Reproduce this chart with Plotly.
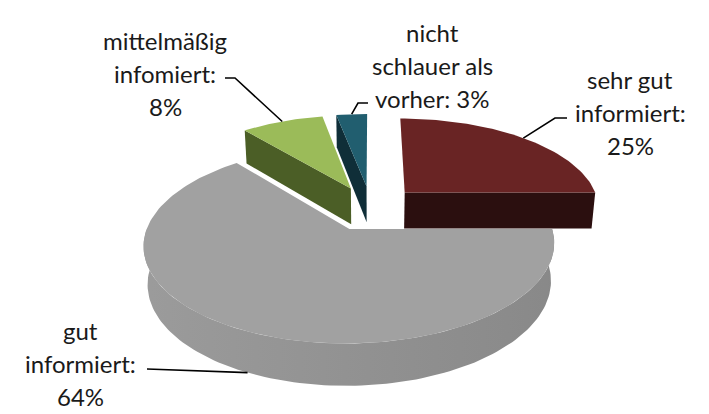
import numpy as np
import plotly.graph_objects as go

# ---------------- data ----------------
categories = ["sehr gut informiert", "gut informiert", "mittelmäßig infomiert", "nicht schlauer als vorher"]
values = [25, 64, 8, 3]
label_templates = [
    "sehr gut<br>informiert:<br>{}%",
    "gut<br>informiert:<br>{}%",
    "mittelmäßig<br>infomiert:<br>{}%",
    "nicht<br>schlauer als<br>vorher: {}%",
]

# ---------------- style ----------------
top_colors = ["#692424", "#a1a1a1", "#9bbb59", "#215e6f"]
side_colors = ["#2b0f0f", "#929292", "#4b5e26", "#0f2e38"]
W, Hpx = 709, 414
# projection (3-D perspective) settings
F, D, PHI = 1135.0, 5.8, np.radians(27.3)
EXPLODE, THICK = 0.25, 0.215
OX, OY = 371.0, 208.0
# label placement (pixel positions of text centers / leader elbows)
label_pos = [(630, 79), (80, 330), (165, 40), (432, 32)]
line_step = 33
leader_start = [[(567, 118), (555, 118)], [(147, 369)], [(225, 78), (235, 78)], [(368, 103), (358, 103)]]
FONT = "Lato"


def proj(X, Y, Z):
    X = np.asarray(X, float); Y = np.asarray(Y, float); Z = np.asarray(Z, float) + 0 * X
    w = D - (Y * np.cos(PHI) + Z * np.sin(PHI))
    sx = F * X / w
    sy = F * (-Y * np.sin(PHI) + Z * np.cos(PHI)) / w
    return OX + sx, OY - sy


def shade(hex_color, f):
    h = hex_color.lstrip("#")
    r, g, b = (int(h[i:i + 2], 16) for i in (0, 2, 4))
    c = [max(0, min(255, int(round(v * f)))) for v in (r, g, b)]
    return "rgb({},{},{})".format(*c)


fig = go.Figure()


def poly(xs, ys, color, gradient=None):
    xs = list(xs) + [xs[0]]
    ys = list(ys) + [ys[0]]
    kw = {}
    if gradient is not None:
        kw["fillgradient"] = dict(type="horizontal", colorscale=gradient)
    fig.add_trace(go.Scatter(x=xs, y=ys, mode="lines", fill="toself", fillcolor=color,
                             line=dict(color=color, width=0), hoverinfo="skip", showlegend=False, **kw))


total = float(sum(values))
cum = np.concatenate([[0], np.cumsum(values)]) / total * 2 * np.pi
slices = []
for i, v in enumerate(values):
    t1, t2 = cum[i], cum[i + 1]
    m = 0.5 * (t1 + t2)
    ex, ey = EXPLODE * np.sin(m), -EXPLODE * np.cos(m)
    slices.append(dict(i=i, t1=t1, t2=t2, m=m, ex=ex, ey=ey))

# draw back slices first
order = sorted(slices, key=lambda s: s["ey"])
for s in order:
    i, t1, t2, ex, ey = s["i"], s["t1"], s["t2"], s["ex"], s["ey"]
    # radial faces
    for t, vis in ((t1, -np.sin(t1)), (t2, np.sin(t2))):
        if vis > 1e-6:
            Xs = [ex, ex + np.sin(t), ex + np.sin(t), ex]
            Ys = [ey, ey - np.cos(t), ey - np.cos(t), ey]
            Zs = [0, 0, -THICK, -THICK]
            px, py = proj(Xs, Ys, Zs)
            poly(px, py, side_colors[i])
    # outer curved wall (front part only), one polygon with a horizontal gradient
    a = max(t1, np.pi / 2)
    b = min(t2, 3 * np.pi / 2)
    if b > a:
        ts = np.linspace(a, b, 120)
        Xt = ex + np.sin(ts)
        Yt = ey - np.cos(ts)
        tx, ty = proj(Xt, Yt, np.zeros_like(ts))
        bx, by = proj(Xt[::-1], Yt[::-1], np.full_like(ts, -THICK))
        px = np.concatenate([tx, bx])
        py = np.concatenate([ty, by])
        # colour stops from left (angle b) to right (angle a)
        stops = np.linspace(b, a, 9)
        sx_stops, _ = proj(ex + np.sin(stops), ey - np.cos(stops), np.full_like(stops, -THICK / 2))
        lo, hi = px.min(), px.max()
        pos = np.clip((sx_stops - lo) / (hi - lo), 0, 1)
        pos[0], pos[-1] = 0.0, 1.0
        grad = [[float(p), shade(side_colors[i], 1.0 - 0.07 * np.sin(tt))] for p, tt in zip(pos, stops)]
        poly(px, py, side_colors[i], gradient=grad)
    # top face
    ts = np.linspace(t1, t2, max(3, int((t2 - t1) / np.radians(1.5))))
    Xs = np.concatenate([[ex], ex + np.sin(ts)])
    Ys = np.concatenate([[ey], ey - np.cos(ts)])
    px, py = proj(Xs, Ys, np.zeros_like(Xs))
    poly(px, py, top_colors[i])

# labels and leader lines
for s in slices:
    i = s["i"]
    m = s["m"]
    X = s["ex"] + np.sin(m)
    Y = s["ey"] - np.cos(m)
    Z = -THICK if Y > 0 else 0.0
    ax, ay = proj([X], [Y], [Z])
    pts = leader_start[i] + [(float(ax[0]), float(ay[0]))]
    fig.add_trace(go.Scatter(x=[p[0] for p in pts], y=[p[1] for p in pts], mode="lines",
                             line=dict(color="#000000", width=1.6), hoverinfo="skip", showlegend=False))
    lines = label_templates[i].format(values[i]).split("<br>")
    cx, cy = label_pos[i]
    for k, txt in enumerate(lines):
        fig.add_annotation(x=cx, y=cy + k * line_step, xref="x", yref="y", text=txt, showarrow=False,
                           font=dict(family=FONT, size=24, color="#1a1a1a"), xanchor="center", yanchor="middle")

fig.update_layout(
    width=W, height=Hpx, margin=dict(l=0, r=0, t=0, b=0),
    paper_bgcolor="white", plot_bgcolor="white",
    xaxis=dict(range=[0, W], visible=False, fixedrange=True),
    yaxis=dict(range=[Hpx, 0], visible=False, fixedrange=True),
    showlegend=False,
)
fig.write_html("out.html")
